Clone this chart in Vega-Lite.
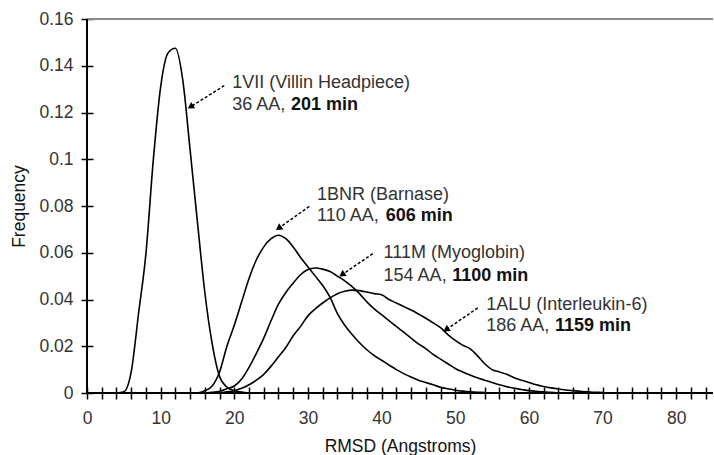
{
  "$schema": "https://vega.github.io/schema/vega-lite/v6.json",
  "width": 626,
  "height": 374,
  "autosize": {"type": "none"},
  "padding": {"left": 87, "top": 19, "right": 1, "bottom": 62},
  "config": {
    "view": {"stroke": null},
    "font": "Liberation Sans",
    "text": {"font": "Liberation Sans"}
  },
  "datasets": {
    "curves": [
      {"protein": "1VII", "rmsd": 4, "freq": 0},
      {"protein": "1VII", "rmsd": 5, "freq": 0.0005},
      {"protein": "1VII", "rmsd": 6, "freq": 0.009},
      {"protein": "1VII", "rmsd": 7, "freq": 0.034},
      {"protein": "1VII", "rmsd": 8, "freq": 0.0596},
      {"protein": "1VII", "rmsd": 9, "freq": 0.0996},
      {"protein": "1VII", "rmsd": 10, "freq": 0.131},
      {"protein": "1VII", "rmsd": 11, "freq": 0.1455},
      {"protein": "1VII", "rmsd": 12, "freq": 0.1475},
      {"protein": "1VII", "rmsd": 13, "freq": 0.134},
      {"protein": "1VII", "rmsd": 14, "freq": 0.104},
      {"protein": "1VII", "rmsd": 15, "freq": 0.073},
      {"protein": "1VII", "rmsd": 16, "freq": 0.043},
      {"protein": "1VII", "rmsd": 17, "freq": 0.021},
      {"protein": "1VII", "rmsd": 18, "freq": 0.007},
      {"protein": "1VII", "rmsd": 19, "freq": 0.0025},
      {"protein": "1VII", "rmsd": 20, "freq": 0.001},
      {"protein": "1VII", "rmsd": 21, "freq": 0.0004},
      {"protein": "1VII", "rmsd": 22, "freq": 0},

      {"protein": "1BNR", "rmsd": 15, "freq": 0},
      {"protein": "1BNR", "rmsd": 16, "freq": 0.001},
      {"protein": "1BNR", "rmsd": 17, "freq": 0.003},
      {"protein": "1BNR", "rmsd": 18, "freq": 0.009},
      {"protein": "1BNR", "rmsd": 19, "freq": 0.02},
      {"protein": "1BNR", "rmsd": 20, "freq": 0.029},
      {"protein": "1BNR", "rmsd": 21, "freq": 0.039},
      {"protein": "1BNR", "rmsd": 22, "freq": 0.049},
      {"protein": "1BNR", "rmsd": 23, "freq": 0.057},
      {"protein": "1BNR", "rmsd": 24, "freq": 0.0625},
      {"protein": "1BNR", "rmsd": 25, "freq": 0.066},
      {"protein": "1BNR", "rmsd": 26, "freq": 0.0675},
      {"protein": "1BNR", "rmsd": 27, "freq": 0.066},
      {"protein": "1BNR", "rmsd": 28, "freq": 0.0625},
      {"protein": "1BNR", "rmsd": 29, "freq": 0.058},
      {"protein": "1BNR", "rmsd": 30, "freq": 0.054},
      {"protein": "1BNR", "rmsd": 31, "freq": 0.05},
      {"protein": "1BNR", "rmsd": 32, "freq": 0.046},
      {"protein": "1BNR", "rmsd": 33, "freq": 0.041},
      {"protein": "1BNR", "rmsd": 34, "freq": 0.034},
      {"protein": "1BNR", "rmsd": 35, "freq": 0.029},
      {"protein": "1BNR", "rmsd": 36, "freq": 0.025},
      {"protein": "1BNR", "rmsd": 37, "freq": 0.0215},
      {"protein": "1BNR", "rmsd": 38, "freq": 0.0185},
      {"protein": "1BNR", "rmsd": 39, "freq": 0.016},
      {"protein": "1BNR", "rmsd": 40, "freq": 0.014},
      {"protein": "1BNR", "rmsd": 41, "freq": 0.012},
      {"protein": "1BNR", "rmsd": 42, "freq": 0.01},
      {"protein": "1BNR", "rmsd": 43, "freq": 0.0083},
      {"protein": "1BNR", "rmsd": 44, "freq": 0.0068},
      {"protein": "1BNR", "rmsd": 45, "freq": 0.0055},
      {"protein": "1BNR", "rmsd": 46, "freq": 0.0045},
      {"protein": "1BNR", "rmsd": 47, "freq": 0.0035},
      {"protein": "1BNR", "rmsd": 48, "freq": 0.0025},
      {"protein": "1BNR", "rmsd": 49, "freq": 0.0018},
      {"protein": "1BNR", "rmsd": 50, "freq": 0.0012},
      {"protein": "1BNR", "rmsd": 51, "freq": 0.0008},
      {"protein": "1BNR", "rmsd": 52, "freq": 0.0005},
      {"protein": "1BNR", "rmsd": 53, "freq": 0.0003},
      {"protein": "1BNR", "rmsd": 54, "freq": 0.0002},
      {"protein": "1BNR", "rmsd": 55, "freq": 0},

      {"protein": "111M", "rmsd": 16, "freq": 0},
      {"protein": "111M", "rmsd": 17, "freq": 0.0003},
      {"protein": "111M", "rmsd": 18, "freq": 0.0007},
      {"protein": "111M", "rmsd": 19, "freq": 0.0018},
      {"protein": "111M", "rmsd": 20, "freq": 0.003},
      {"protein": "111M", "rmsd": 21, "freq": 0.006},
      {"protein": "111M", "rmsd": 22, "freq": 0.011},
      {"protein": "111M", "rmsd": 23, "freq": 0.017},
      {"protein": "111M", "rmsd": 24, "freq": 0.0235},
      {"protein": "111M", "rmsd": 25, "freq": 0.031},
      {"protein": "111M", "rmsd": 26, "freq": 0.038},
      {"protein": "111M", "rmsd": 27, "freq": 0.043},
      {"protein": "111M", "rmsd": 28, "freq": 0.047},
      {"protein": "111M", "rmsd": 29, "freq": 0.0506},
      {"protein": "111M", "rmsd": 30, "freq": 0.0528},
      {"protein": "111M", "rmsd": 31, "freq": 0.0535},
      {"protein": "111M", "rmsd": 32, "freq": 0.053},
      {"protein": "111M", "rmsd": 33, "freq": 0.052},
      {"protein": "111M", "rmsd": 34, "freq": 0.05},
      {"protein": "111M", "rmsd": 35, "freq": 0.048},
      {"protein": "111M", "rmsd": 36, "freq": 0.0455},
      {"protein": "111M", "rmsd": 37, "freq": 0.0425},
      {"protein": "111M", "rmsd": 38, "freq": 0.039},
      {"protein": "111M", "rmsd": 39, "freq": 0.036},
      {"protein": "111M", "rmsd": 40, "freq": 0.0335},
      {"protein": "111M", "rmsd": 41, "freq": 0.031},
      {"protein": "111M", "rmsd": 42, "freq": 0.0285},
      {"protein": "111M", "rmsd": 43, "freq": 0.026},
      {"protein": "111M", "rmsd": 44, "freq": 0.0235},
      {"protein": "111M", "rmsd": 45, "freq": 0.021},
      {"protein": "111M", "rmsd": 46, "freq": 0.019},
      {"protein": "111M", "rmsd": 47, "freq": 0.0165},
      {"protein": "111M", "rmsd": 48, "freq": 0.0145},
      {"protein": "111M", "rmsd": 49, "freq": 0.0125},
      {"protein": "111M", "rmsd": 50, "freq": 0.0105},
      {"protein": "111M", "rmsd": 51, "freq": 0.009},
      {"protein": "111M", "rmsd": 52, "freq": 0.0077},
      {"protein": "111M", "rmsd": 53, "freq": 0.0065},
      {"protein": "111M", "rmsd": 54, "freq": 0.0055},
      {"protein": "111M", "rmsd": 55, "freq": 0.0045},
      {"protein": "111M", "rmsd": 56, "freq": 0.0035},
      {"protein": "111M", "rmsd": 57, "freq": 0.0027},
      {"protein": "111M", "rmsd": 58, "freq": 0.002},
      {"protein": "111M", "rmsd": 59, "freq": 0.0015},
      {"protein": "111M", "rmsd": 60, "freq": 0.001},
      {"protein": "111M", "rmsd": 61, "freq": 0.0007},
      {"protein": "111M", "rmsd": 62, "freq": 0.0005},
      {"protein": "111M", "rmsd": 63, "freq": 0.0003},
      {"protein": "111M", "rmsd": 64, "freq": 0},

      {"protein": "1ALU", "rmsd": 18, "freq": 0},
      {"protein": "1ALU", "rmsd": 19, "freq": 0.0005},
      {"protein": "1ALU", "rmsd": 20, "freq": 0.001},
      {"protein": "1ALU", "rmsd": 21, "freq": 0.002},
      {"protein": "1ALU", "rmsd": 22, "freq": 0.0035},
      {"protein": "1ALU", "rmsd": 23, "freq": 0.0055},
      {"protein": "1ALU", "rmsd": 24, "freq": 0.008},
      {"protein": "1ALU", "rmsd": 25, "freq": 0.0115},
      {"protein": "1ALU", "rmsd": 26, "freq": 0.0155},
      {"protein": "1ALU", "rmsd": 27, "freq": 0.0195},
      {"protein": "1ALU", "rmsd": 28, "freq": 0.0245},
      {"protein": "1ALU", "rmsd": 29, "freq": 0.0285},
      {"protein": "1ALU", "rmsd": 30, "freq": 0.033},
      {"protein": "1ALU", "rmsd": 31, "freq": 0.036},
      {"protein": "1ALU", "rmsd": 32, "freq": 0.0385},
      {"protein": "1ALU", "rmsd": 33, "freq": 0.0407},
      {"protein": "1ALU", "rmsd": 34, "freq": 0.0425},
      {"protein": "1ALU", "rmsd": 35, "freq": 0.0435},
      {"protein": "1ALU", "rmsd": 36, "freq": 0.044},
      {"protein": "1ALU", "rmsd": 37, "freq": 0.0438},
      {"protein": "1ALU", "rmsd": 38, "freq": 0.0432},
      {"protein": "1ALU", "rmsd": 39, "freq": 0.0425},
      {"protein": "1ALU", "rmsd": 40, "freq": 0.042},
      {"protein": "1ALU", "rmsd": 41, "freq": 0.04},
      {"protein": "1ALU", "rmsd": 42, "freq": 0.0385},
      {"protein": "1ALU", "rmsd": 43, "freq": 0.037},
      {"protein": "1ALU", "rmsd": 44, "freq": 0.0355},
      {"protein": "1ALU", "rmsd": 45, "freq": 0.0338},
      {"protein": "1ALU", "rmsd": 46, "freq": 0.032},
      {"protein": "1ALU", "rmsd": 47, "freq": 0.03},
      {"protein": "1ALU", "rmsd": 48, "freq": 0.028},
      {"protein": "1ALU", "rmsd": 49, "freq": 0.025},
      {"protein": "1ALU", "rmsd": 50, "freq": 0.0225},
      {"protein": "1ALU", "rmsd": 51, "freq": 0.0205},
      {"protein": "1ALU", "rmsd": 52, "freq": 0.019},
      {"protein": "1ALU", "rmsd": 53, "freq": 0.016},
      {"protein": "1ALU", "rmsd": 54, "freq": 0.0125},
      {"protein": "1ALU", "rmsd": 55, "freq": 0.01},
      {"protein": "1ALU", "rmsd": 56, "freq": 0.009},
      {"protein": "1ALU", "rmsd": 57, "freq": 0.008},
      {"protein": "1ALU", "rmsd": 58, "freq": 0.0065},
      {"protein": "1ALU", "rmsd": 59, "freq": 0.0055},
      {"protein": "1ALU", "rmsd": 60, "freq": 0.0045},
      {"protein": "1ALU", "rmsd": 61, "freq": 0.0035},
      {"protein": "1ALU", "rmsd": 62, "freq": 0.0028},
      {"protein": "1ALU", "rmsd": 63, "freq": 0.0022},
      {"protein": "1ALU", "rmsd": 64, "freq": 0.0017},
      {"protein": "1ALU", "rmsd": 65, "freq": 0.0013},
      {"protein": "1ALU", "rmsd": 66, "freq": 0.001},
      {"protein": "1ALU", "rmsd": 67, "freq": 0.0007},
      {"protein": "1ALU", "rmsd": 68, "freq": 0.0005},
      {"protein": "1ALU", "rmsd": 69, "freq": 0.0003},
      {"protein": "1ALU", "rmsd": 70, "freq": 0.0002},
      {"protein": "1ALU", "rmsd": 71, "freq": 0}
    ],
    "labels": [
      {"label": "1VII (Villin Headpiece)", "rmsd": 19.73, "freq": 0.1305, "part": "name"},
      {"label": "36 AA,", "rmsd": 19.73, "freq": 0.1212, "part": "size"},
      {"label": "201 min", "rmsd": 27.7, "freq": 0.1212, "part": "time"},
      {"label": "1BNR (Barnase)", "rmsd": 31.23, "freq": 0.0827, "part": "name"},
      {"label": "110 AA,", "rmsd": 31.23, "freq": 0.0734, "part": "size"},
      {"label": "606 min", "rmsd": 40.56, "freq": 0.0734, "part": "time"},
      {"label": "111M (Myoglobin)", "rmsd": 40.27, "freq": 0.0578, "part": "name"},
      {"label": "154 AA,", "rmsd": 40.27, "freq": 0.048, "part": "size"},
      {"label": "1100 min", "rmsd": 49.6, "freq": 0.048, "part": "time"},
      {"label": "1ALU (Interleukin-6)", "rmsd": 54.22, "freq": 0.0356, "part": "name"},
      {"label": "186 AA,", "rmsd": 54.22, "freq": 0.0267, "part": "size"},
      {"label": "1159 min", "rmsd": 63.54, "freq": 0.0267, "part": "time"}
    ],
    "arrows": [
      {"protein": "1VII", "rmsd": 18.64, "freq": 0.1315, "rmsd2": 14.05, "freq2": 0.1224, "angle": 238},
      {"protein": "1BNR", "rmsd": 30.18, "freq": 0.0798, "rmsd2": 26.02, "freq2": 0.0705, "angle": 235},
      {"protein": "111M", "rmsd": 38.8, "freq": 0.0596, "rmsd2": 34.62, "freq2": 0.0506, "angle": 236},
      {"protein": "1ALU", "rmsd": 53.06, "freq": 0.0364, "rmsd2": 48.76, "freq2": 0.0271, "angle": 236}
    ]
  },
  "layer": [
    {
      "data": {"name": "curves"},
      "mark": {"type": "line", "color": "black", "strokeWidth": 1.6, "interpolate": "monotone"},
      "encoding": {
        "x": {
          "field": "rmsd", "type": "quantitative",
          "scale": {"domain": [0, 85], "nice": false, "zero": true},
          "axis": {
            "title": "RMSD (Angstroms)",
            "values": [0,2,4,6,8,10,12,14,16,18,20,22,24,26,28,30,32,34,36,38,40,42,44,46,48,50,52,54,56,58,60,62,64,66,68,70,72,74,76,78,80,82,84],
            "tickCount": 100,
            "labelExpr": "datum.value % 10 === 0 ? datum.label : ''",
            "labelOverlap": false,
            "labelFlush": false,
            "domain": false,
            "grid": false,
            "offset": -6,
            "tickSize": 12,
            "tickColor": "black",
            "tickWidth": 1.5,
            "labelFont": "Liberation Sans",
            "labelFontSize": 17.5,
            "labelColor": "#333",
            "labelPadding": 10,
            "titleFont": "Liberation Sans",
            "titleFontSize": 17.5,
            "titleFontWeight": "normal",
            "titleColor": "#111",
            "titlePadding": 11
          }
        },
        "y": {
          "field": "freq", "type": "quantitative",
          "scale": {"domain": [0, 0.16], "nice": false},
          "axis": {
            "title": "Frequency",
            "values": [0, 0.02, 0.04, 0.06, 0.08, 0.1, 0.12, 0.14, 0.16],
            "tickCount": 100,
            "format": "~g",
            "labelOverlap": false,
            "labelFlush": false,
            "domain": false,
            "grid": false,
            "offset": -6,
            "tickSize": 12,
            "tickColor": "black",
            "tickWidth": 1.5,
            "labelFont": "Liberation Sans",
            "labelFontSize": 17.5,
            "labelColor": "#333",
            "labelPadding": 8,
            "titleFont": "Liberation Sans",
            "titleFontSize": 17.5,
            "titleFontWeight": "normal",
            "titleColor": "#111",
            "titlePadding": 10
          }
        },
        "detail": {"field": "protein"}
      }
    },
    {
      "data": {"values": [{}]},
      "mark": {"type": "rule", "color": "#8a8a8a", "strokeWidth": 2},
      "encoding": {"y": {"datum": 0.16}}
    },
    {
      "data": {"values": [{}]},
      "mark": {"type": "rule", "color": "black", "strokeWidth": 2},
      "encoding": {"x": {"datum": 0}}
    },
    {
      "data": {"values": [{}]},
      "mark": {"type": "rule", "color": "black", "strokeWidth": 2},
      "encoding": {"y": {"datum": 0}}
    },
    {
      "data": {"name": "labels"},
      "transform": [{"filter": "datum.part !== 'time'"}],
      "mark": {"type": "text", "align": "left", "baseline": "alphabetic", "font": "Liberation Sans", "fontSize": 18, "color": "#333"},
      "encoding": {
        "x": {"field": "rmsd", "type": "quantitative"},
        "y": {"field": "freq", "type": "quantitative"},
        "text": {"field": "label"}
      }
    },
    {
      "data": {"name": "labels"},
      "transform": [{"filter": "datum.part === 'time'"}],
      "mark": {"type": "text", "align": "left", "baseline": "alphabetic", "font": "Liberation Sans", "fontSize": 18, "fontWeight": "bold", "color": "#111"},
      "encoding": {
        "x": {"field": "rmsd", "type": "quantitative"},
        "y": {"field": "freq", "type": "quantitative"},
        "text": {"field": "label"}
      }
    },
    {
      "data": {"name": "arrows"},
      "mark": {"type": "rule", "color": "black", "strokeWidth": 1.5, "strokeDash": [3, 2]},
      "encoding": {
        "x": {"field": "rmsd", "type": "quantitative"},
        "y": {"field": "freq", "type": "quantitative"},
        "x2": {"field": "rmsd2"},
        "y2": {"field": "freq2"}
      }
    },
    {
      "data": {"name": "arrows"},
      "mark": {"type": "point", "shape": "triangle-up", "filled": true, "color": "black", "size": 55, "opacity": 1},
      "encoding": {
        "x": {"field": "rmsd2", "type": "quantitative"},
        "y": {"field": "freq2", "type": "quantitative"},
        "angle": {"field": "angle", "type": "quantitative", "scale": null}
      }
    }
  ]
}
